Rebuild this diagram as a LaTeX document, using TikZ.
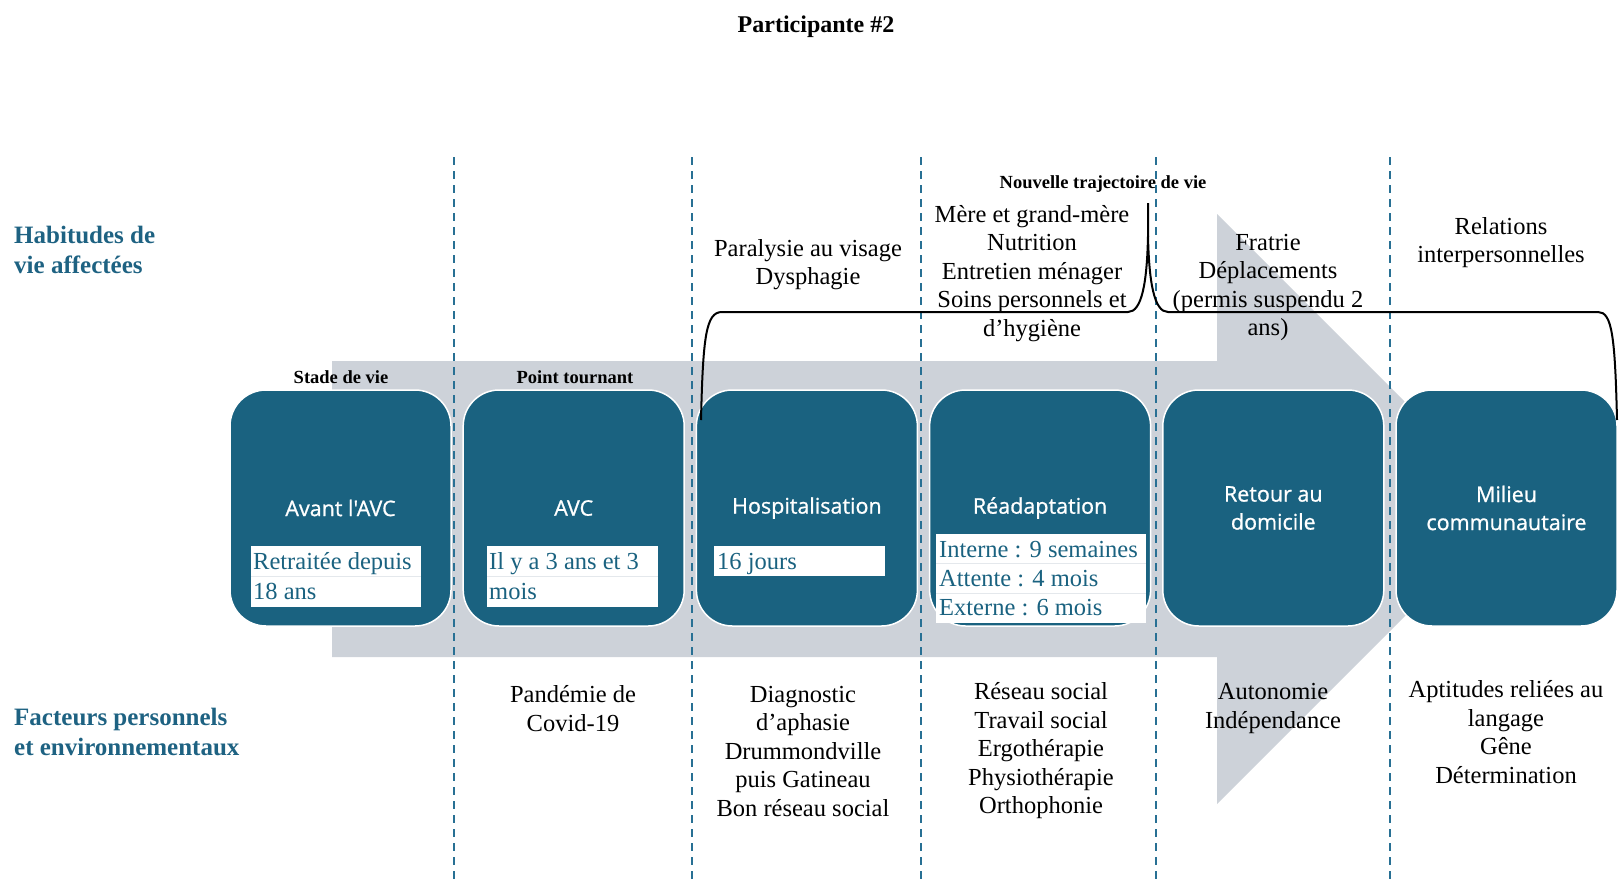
\documentclass[tikz,border=0pt]{standalone}
\usepackage{fontspec}
\setmainfont{Liberation Serif}
\newfontfamily\boxfont{Open Sans}[FakeBold=0.9]
\definecolor{boxblue}{RGB}{26,98,128}
\definecolor{labelblue}{RGB}{30,98,130}
\definecolor{dashblue}{RGB}{40,112,148}
\definecolor{arrowgray}{RGB}{205,210,217}
\definecolor{rowline}{RGB}{228,232,236}
\tikzset{
  stage/.style={draw=white, line width=1.5pt, fill=boxblue, rounded corners=36pt,
    minimum width=221pt, minimum height=236pt, inner sep=0pt},
  stagetitle/.style={text=white, align=center, inner sep=0pt,
    font=\boxfont\fontsize{21.5}{28}\selectfont},
  cell/.style={fill=white, draw=none, inner sep=0pt},
  celltext/.style={anchor=base west, inner sep=0pt, text=boxblue,
    font=\fontsize{24.5}{28.5}\selectfont},
  body/.style={align=center, inner sep=0pt, font=\fontsize{24.5}{28.5}\selectfont},
  sidehead/.style={anchor=west, align=left, inner sep=0pt, text=labelblue,
    font=\bfseries\fontsize{25}{30}\selectfont},
  smallhead/.style={inner sep=0pt, font=\bfseries\fontsize{18.5}{22}\selectfont},
  divider/.style={dashblue, line width=2pt, dash pattern=on 8pt off 6pt},
  bracket/.style={black, line width=2pt, line join=round},
}
\begin{document}
\begin{tikzpicture}[x=1pt,y=-1pt]
\useasboundingbox (0,0) rectangle (1619,884);

% broad grey arrow behind the timeline
\fill[arrowgray] (332,361) -- (1217,361) -- (1217,214) -- (1512,509)
  -- (1217,804) -- (1217,657) -- (332,657) -- cycle;

% dashed dividers between the stages
\foreach \x in {454,692,921,1156,1390}
  \draw[divider] (\x,157) -- (\x,884);

% stage boxes
\node[stage] (s1) at (340.5,508) {};
\node[stage] (s2) at (573.7,508) {};
\node[stage] (s3) at (806.9,508) {};
\node[stage] (s4) at (1040.1,508) {};
\node[stage] (s5) at (1273.3,508) {};
\node[stage] (s6) at (1506.5,508) {};

\node[stagetitle] (t1) at (s1.center) {Avant l'AVC};
\node[stagetitle] (t2) at (s2.center) {AVC};
\node[stagetitle] (t3) at (s3.center) {Hospitalisation};
\node[stagetitle] (t4) at (s4.center) {Réadaptation};
\node[stagetitle] (t5) at (s5.center) {Retour au\\domicile};
\node[stagetitle] (t6) at (s6.center) {Milieu\\communautaire};

% white detail cells inside the boxes
\fill[white] (251,546) rectangle (421,607);
\draw[rowline, line width=1pt] (251,576.5) -- (421,576.5);
\node[celltext] (c1a) at (253,569) {Retraitée depuis};
\node[celltext] (c1b) at (253,599) {18 ans};

\fill[white] (487,546) rectangle (658,607);
\draw[rowline, line width=1pt] (487,576.5) -- (658,576.5);
\node[celltext] (c2a) at (489,569) {Il y a 3 ans et 3};
\node[celltext] (c2b) at (489,599) {mois};

\fill[white] (714,546) rectangle (885,576);
\node[celltext] (c3a) at (717,569) {16 jours};

\fill[white] (936,534) rectangle (1146,623);
\draw[rowline, line width=1pt] (936,563.5) -- (1146,563.5);
\draw[rowline, line width=1pt] (936,593.5) -- (1146,593.5);
\node[celltext] (c4a) at (939,557) {Interne : 9 semaines};
\node[celltext] (c4b) at (939,586) {Attente : 4 mois};
\node[celltext] (c4c) at (939,615) {Externe : 6 mois};

% brace spanning the later stages
\coordinate (bl) at (701,420);
\coordinate (bt) at (1148,203);
\coordinate (bm) at (1148,236);
\coordinate (br) at (1617,420);
\draw[bracket] (bl) .. controls (703,336) and (706,312) .. (722,312)
  -- (1128,312) .. controls (1142,312) and (1147,282) .. (bm) -- (bt);
\draw[bracket] (bm) .. controls (1149,282) and (1154,312) .. (1168,312)
  -- (1598,312) .. controls (1612,312) and (1615,336) .. (br);

% headings
\node[inner sep=0pt, font=\bfseries\fontsize{24}{28}\selectfont] (title) at (816,27) {Participante \#2};
\node[sidehead] (hab) at (14,250) {Habitudes de\\vie affectées};
\node[sidehead] (fac) at (14,732) {Facteurs personnels\\et environnementaux};
\node[smallhead] (stade) at (341,377) {Stade de vie};
\node[smallhead] (point) at (575,377) {Point tournant};
\node[smallhead] (nouv) at (1103,184) {Nouvelle trajectoire de vie};

% affected life habits
\node[body] (h3) at (808,264.5) {Paralysie au visage\\Dysphagie};
\node[body] (h4) at (1032,273.5) {Mère et grand-mère\\Nutrition\\Entretien ménager\\Soins personnels et\\d’hygiène};
\node[body] (h5) at (1268,287.5) {Fratrie\\Déplacements\\(permis suspendu 2\\ans)};
\node[body] (h6) at (1501,242.5) {Relations\\interpersonnelles};

% personal and environmental factors
\node[body] (f2) at (573,708.5) {Pandémie de\\Covid-19};
\node[body] (f3) at (803,751) {Diagnostic\\d’aphasie\\Drummondville\\puis Gatineau\\Bon réseau social};
\node[body] (f4) at (1041,751) {Réseau social\\Travail social\\Ergothérapie\\Physiothérapie\\Orthophonie};
\node[body] (f5) at (1273,708.5) {Autonomie\\Indépendance};
\node[body] (f6) at (1506,732) {Aptitudes reliées au\\langage\\Gêne\\Détermination};
\end{tikzpicture}
\end{document}
